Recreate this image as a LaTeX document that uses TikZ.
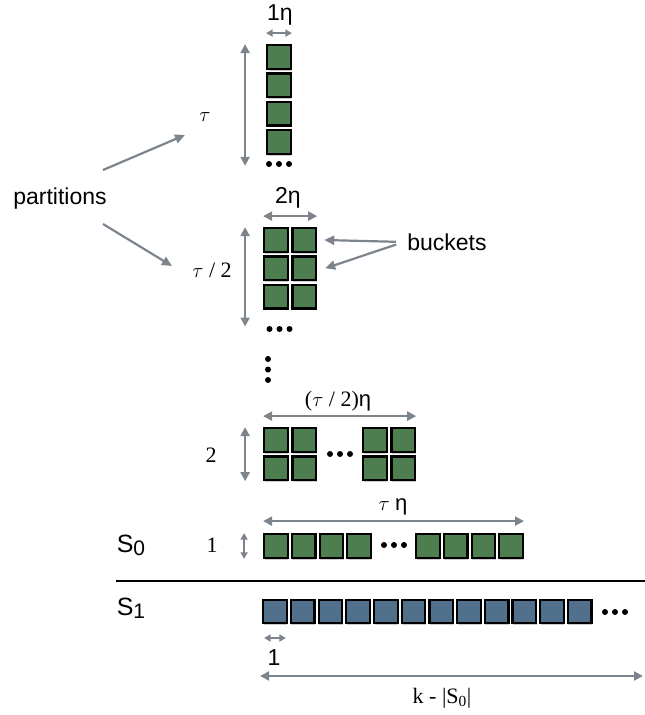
\documentclass[tikz,border=0pt]{standalone}
\usepackage{fontspec}
\setmainfont{Liberation Serif}
\setsansfont{Liberation Sans}
\usepackage{tikz}
\usetikzlibrary{arrows.meta,shadows}
\definecolor{bgreen}{RGB}{78,125,80}
\definecolor{bblue}{RGB}{80,112,140}
\definecolor{dimgray}{RGB}{125,132,140}
\tikzstyle{bucket}=[draw=black,line width=2.2pt,fill=bgreen,minimum size=23.6pt,
                inner sep=0pt,drop shadow={shadow xshift=0.5pt,shadow yshift=-2pt,opacity=0.4}]
\tikzstyle{dim}=[draw=dimgray,line width=2.2pt,<->,>={Triangle[length=9pt,width=9pt]}]
\tikzstyle{small dim}=[dim,line width=1.8pt,>={Triangle[length=6.5pt,width=7pt]}]
\tikzstyle{pointer}=[draw=dimgray,line width=2.2pt,->,>={Triangle[length=10pt,width=9pt]}]
\tikzstyle{lbl}=[font=\sffamily\fontsize{23}{27}\selectfont]
\tikzstyle{setlbl}=[font=\sffamily\fontsize{25}{29}\selectfont]
\tikzstyle{num}=[font=\fontsize{22}{26}\selectfont]
\tikzstyle{sep}=[line width=2.5pt]

\begin{document}
\begin{tikzpicture}[x=1pt,y=-1pt]
\useasboundingbox (0,0) rectangle (645,715);
% tau partitions of width 1
\foreach \r/\y in {1/57,2/85.3,3/113.6,4/141.9}
  \node[bucket] (a\r) at (279,\y) {};
\foreach \x in {269,279,289} \fill (\x,164) circle[radius=3pt];
\node[lbl] (t1eta) at (280,15) {1η};
\node[num] (ttau) at (205,117) {$\tau$};
\draw[small dim] ([yshift=11pt]a1.north west) -- ([yshift=11pt]a1.north east);
\draw[dim] ([xshift=-21pt]a1.north west) -- ([xshift=-21pt,yshift=-11pt]a4.south west);
% tau/2 partitions of width 2
\foreach \r/\y in {1/240,2/268.3,3/296.6}
  \foreach \c/\x in {1/276,2/304.3}
    \node[bucket] (b\r\c) at (\x,\y) {};
\foreach \x in {269.5,279.5,289.5} \fill (\x,329) circle[radius=3pt];
\node[lbl] (t2eta) at (288,198) {2η};
\node[num] (ttau2) at (212,270) {$\tau$ / 2};
\draw[dim] ([yshift=11pt]b11.north west) -- ([yshift=11pt]b12.north east);
\draw[dim] ([xshift=-18pt]b11.north west) -- ([xshift=-18pt,yshift=-17pt]b31.south west);
\node[lbl] (part) at (60,199) {partitions};
\coordinate (pa0) at (103,170);
\coordinate (pa1) at (185,135);
\coordinate (pb0) at (103,224);
\coordinate (pb1) at (172,266);
\draw[pointer] (pa0) -- (pa1);
\draw[pointer] (pb0) -- (pb1);
\node[lbl] (bk) at (447,242) {buckets};
\draw[pointer,shorten <=8pt] (bk.west) -- ([xshift=7pt]b12.east);
\draw[pointer,shorten <=8pt] (bk.west) -- ([xshift=8pt]b22.east);
% vertical dots
\foreach \y in {359,369.5,380} \fill (268,\y) circle[radius=3pt];
% 2 rows
\foreach \r/\y in {1/440,2/468.3}
  \foreach \c/\x in {1/276,2/304.3,3/375,4/403.3}
    \node[bucket] (c\r\c) at (\x,\y) {};
\foreach \x in {330,340,350} \fill (\x,454) circle[radius=3pt];
\node[num] (ttau2eta) at (338,401) {($\tau$ / 2){\sffamily η}};
\node[num] (ttwo) at (211,455) {2};
\draw[dim] ([yshift=11pt]c11.north west) -- ([yshift=11pt]c14.north east);
\draw[dim] ([xshift=-18pt]c11.north west) -- ([xshift=-18pt]c21.south west);
% S0: one row
\foreach \i/\x in {1/276,2/303.7,3/331.4,4/359.1,5/428,6/455.7,7/483.4,8/511.1}
  \node[bucket] (s0-\i) at (\x,546) {};
\foreach \x in {384,394,404} \fill (\x,545) circle[radius=3pt];
\node[num] (ttaueta) at (393,507) {$\tau$ {\sffamily η}};
\node[setlbl] (ls0) at (131,545) {S\raisebox{-3pt}{\fontsize{21}{21}\selectfont 0}};
\node[num] (tone0) at (212,545) {1};
\draw[dim] ([yshift=12pt]s0-1.north west) -- ([yshift=12pt]s0-8.north east);
\draw[small dim] ([xshift=-19pt]s0-1.north west) -- ([xshift=-19pt]s0-1.south west);
\draw[sep] (116,581) -- (645,581);
% S1
\foreach \i in {1,...,12}
  \node[bucket,fill=bblue] (s1-\i) at ({275+27.7*(\i-1)},611.5) {};
\foreach \x in {605,615,625} \fill (\x,612) circle[radius=3pt];
\node[setlbl] (ls1) at (131,608) {S\raisebox{-3pt}{\fontsize{21}{21}\selectfont 1}};
\node[lbl] (tone1) at (274,658) {1};
\node[num] (tk) at (442,698) {k - |S\textsubscript{0}|};
\coordinate (kend) at (643,676);
\draw[small dim] ([xshift=2pt,yshift=-13.6pt]s1-1.south west) -- ([xshift=-2pt,yshift=-13.6pt]s1-1.south east);
\draw[dim] ([xshift=-2pt,yshift=-51.6pt]s1-1.south west) -- (kend);
\end{tikzpicture}
\end{document}
